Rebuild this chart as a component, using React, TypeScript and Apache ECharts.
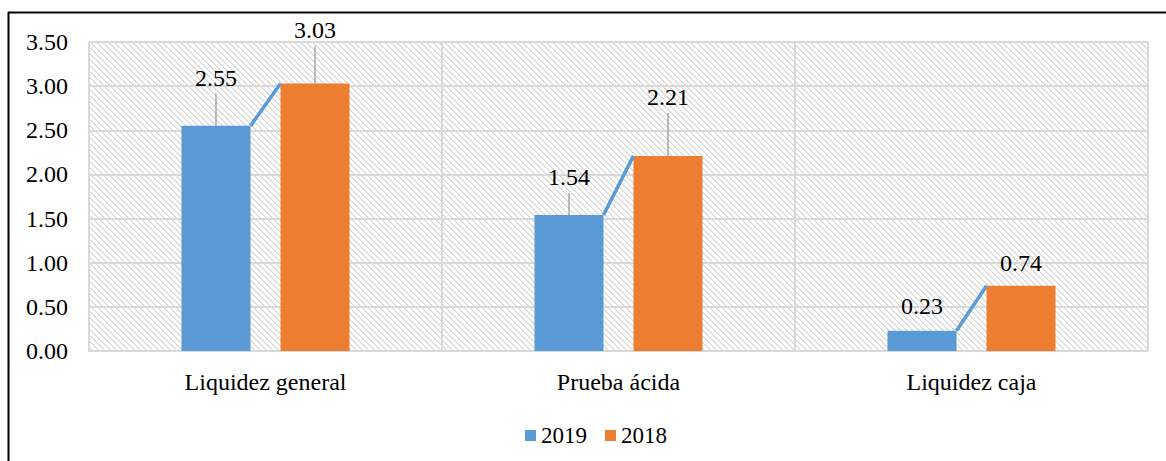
import React, { useEffect, useRef } from "react";
import * as echarts from "echarts";

const categories = ["Liquidez general", "Prueba ácida", "Liquidez caja"];
const seriesNames = ["2019", "2018"];
const values2019 = [2.55, 1.54, 0.23];
const values2018 = [3.03, 2.21, 0.74];
const yMin = 0;
const yMax = 3.5;
const yStep = 0.5;

// layout: label lift above bar top (px)
const lift2019 = [48, 38, 25];
const lift2018 = [53, 59, 23];

const FONT = "Liberation Serif";
const BLUE = "#5B9BD5";
const ORANGE = "#ED7D31";

function makeHatch(): HTMLCanvasElement {
  const s = 6;
  const c = document.createElement("canvas");
  c.width = s;
  c.height = s;
  const ctx = c.getContext("2d")!;
  const img = ctx.createImageData(s, s);
  for (let y = 0; y < s; y++) {
    for (let x = 0; x < s; x++) {
      const k = (((x - y) % s) + s) % s;
      let v = 255;
      if (k === 0) v = 212;
      else if (k === 1) v = 232;
      const idx = (y * s + x) * 4;
      img.data[idx] = v;
      img.data[idx + 1] = v;
      img.data[idx + 2] = v;
      img.data[idx + 3] = 255;
    }
  }
  ctx.putImageData(img, 0, 0);
  return c;
}

export default function App() {
  const ref = useRef<HTMLDivElement>(null);

  useEffect(() => {
    if (!ref.current) return;
    const chart = echarts.init(ref.current, null, { renderer: "svg" });
    const hatch = makeHatch();
    const barW = 69;
    const halfGap = 15;

    const option: any = {
      animation: false,
      backgroundColor: "#ffffff",
      textStyle: { fontFamily: FONT },
      grid: {
        left: 89,
        top: 42,
        right: 18,
        bottom: 110,
        show: true,
        borderWidth: 0,
        backgroundColor: { image: hatch, repeat: "repeat" },
      },
      legend: {
        data: seriesNames,
        left: 520,
        top: 419,
        icon: "rect",
        itemWidth: 11,
        itemHeight: 11,
        itemGap: 18,
        textStyle: { fontFamily: FONT, fontSize: 23, color: "#000" },
      },
      graphic: [
        {
          type: "line",
          shape: { x1: 8, y1: 12.5, x2: 1166, y2: 12.5 },
          style: { stroke: "#000", lineWidth: 2 },
          z: 10,
        },
        {
          type: "line",
          shape: { x1: 8.5, y1: 12, x2: 8.5, y2: 461 },
          style: { stroke: "#000", lineWidth: 2 },
          z: 10,
        },
      ],
      xAxis: {
        type: "category",
        data: categories,
        axisTick: { show: false },
        axisLine: { show: true, lineStyle: { color: "#d9d9d9", width: 2 } },
        splitLine: { show: true, lineStyle: { color: "#d9d9d9", width: 2 } },
        axisLabel: {
          fontFamily: FONT,
          fontSize: 24,
          color: "#000",
          margin: 19,
        },
      },
      yAxis: {
        type: "value",
        min: yMin,
        max: yMax,
        interval: yStep,
        axisLine: { show: false },
        axisTick: { show: false },
        splitLine: { show: true, lineStyle: { color: "#d9d9d9", width: 2 } },
        axisLabel: {
          fontFamily: FONT,
          fontSize: 24,
          color: "#000",
          margin: 21,
          formatter: (v: number) => v.toFixed(2),
        },
      },
      series: [
        {
          name: seriesNames[0],
          type: "bar",
          data: values2019,
          barWidth: barW,
          barGap: (2 * halfGap / barW) * 100 + "%",
          itemStyle: { color: BLUE },
        },
        {
          name: seriesNames[1],
          type: "bar",
          data: values2018,
          barWidth: barW,
          barGap: (2 * halfGap / barW) * 100 + "%",
          itemStyle: { color: ORANGE },
        },
        {
          type: "custom",
          z: 5,
          silent: true,
          data: categories.map((_, i) => [i, values2019[i], values2018[i]]),
          renderItem: (params: any, api: any) => {
            const i = api.value(0);
            const a = api.value(1);
            const b = api.value(2);
            const cx = api.coord([i, 0])[0];
            const ya = api.coord([i, a])[1];
            const yb = api.coord([i, b])[1];
            const blueX = cx - halfGap - barW / 2;
            const orangeX = cx + halfGap + barW / 2;
            const la = lift2019[i];
            const lb = lift2018[i];
            const children: any[] = [
              {
                type: "line",
                shape: { x1: cx - halfGap, y1: ya, x2: cx + halfGap, y2: yb },
                style: { stroke: BLUE, lineWidth: 3.5 },
              },
            ];
            if (la > 30) {
              children.push({
                type: "line",
                shape: { x1: blueX, y1: ya, x2: blueX, y2: ya - la + 16 },
                style: { stroke: "#a6a6a6", lineWidth: 1.5 },
              });
            }
            if (lb > 30) {
              children.push({
                type: "line",
                shape: { x1: orangeX, y1: yb, x2: orangeX, y2: yb - lb + 16 },
                style: { stroke: "#a6a6a6", lineWidth: 1.5 },
              });
            }
            children.push({
              type: "text",
              style: {
                x: blueX,
                y: ya - la,
                text: a.toFixed(2),
                fill: "#000",
                fontFamily: FONT,
                fontSize: 24,
                align: "center",
                verticalAlign: "middle",
              },
            });
            children.push({
              type: "text",
              style: {
                x: orangeX,
                y: yb - lb,
                text: b.toFixed(2),
                fill: "#000",
                fontFamily: FONT,
                fontSize: 24,
                align: "center",
                verticalAlign: "middle",
              },
            });
            return { type: "group", children };
          },
        },
      ],
    };
    chart.setOption(option);
    return () => chart.dispose();
  }, []);

  return (
    <div
      ref={ref}
      style={{ position: "absolute", left: 0, top: 0, width: 1166, height: 461 }}
    />
  );
}
